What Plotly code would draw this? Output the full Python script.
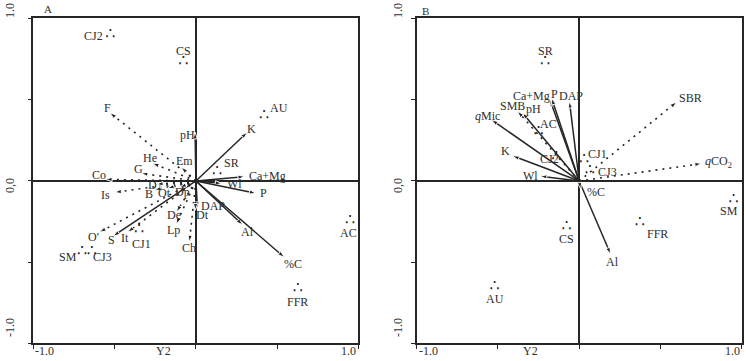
import plotly.graph_objects as go

# ---------------- Panel A data ----------------
envA_names = ["pH", "K", "Ca+Mg", "Wl", "P", "Al", "%C", "S", "DAP"]
envA_x = [-0.005, 0.317, 0.30, 0.16, 0.37, 0.288, 0.545, -0.51, 0.01]
envA_y = [0.30, 0.30, 0.027, -0.015, -0.076, -0.27, -0.47, -0.34, -0.17]

sppA_names = ["F", "He", "Em", "G", "Co", "Is", "D", "B", "Ot", "Dp", "De", "Lp", "Ch", "O'", "It", "Dt"]
sppA_x = [-0.53, -0.268, -0.091, -0.337, -0.557, -0.50, -0.243, -0.255, -0.175, -0.10, -0.12, -0.122, -0.04, -0.594, -0.42, -0.003]
sppA_y = [0.42, 0.11, 0.085, 0.047, 0.01, -0.07, -0.02, -0.055, -0.045, -0.04, -0.19, -0.267, -0.375, -0.315, -0.315, -0.18]

siteA_names = ["CJ2", "CS", "AU", "SR", "AC", "FFR", "SM", "CJ3", "CJ1"]
siteA_x = [-0.526, -0.077, 0.42, 0.13, 0.95, 0.628, -0.70, -0.64, -0.35]
siteA_y = [0.90, 0.735, 0.40, 0.056, -0.247, -0.667, -0.44, -0.44, -0.30]

# ---------------- Panel B data ----------------
envB_names = ["<i>q</i>Mic", "K", "Wl", "pH", "Ca+Mg", "P", "DAP", "Al", "%C"]
envB_x = [-0.54, -0.41, -0.24, -0.35, -0.18, -0.17, -0.06, 0.193, 0.01]
envB_y = [0.377, 0.155, 0.03, 0.42, 0.50, 0.51, 0.49, -0.45, -0.05]

micB_names = ["SMB", "SBR", "<i>q</i>CO<sub>2</sub>"]
micB_x = [-0.38, 0.60, 0.753]
micB_y = [0.43, 0.486, 0.107]

siteB_names = ["SR", "AC", "CJ2", "CJ1", "CJ3", "CS", "AU", "FFR", "SM"]
siteB_x = [-0.21, -0.25, -0.14, 0.03, 0.065, -0.078, -0.52, 0.373, 0.95]
siteB_y = [0.73, 0.30, 0.145, 0.13, 0.06, -0.285, -0.65, -0.26, -0.115]

# ---------------- label offsets (pixels: right, down) ----------------
offA = {"pH": (-8, 3), "K": (4, -3), "Ca+Mg": (23, -1), "Wl": (13, 1), "P": (8, 0),
        "Al": (5, 7), "%C": (9, 7), "S": (-2, 4), "DAP": (15, -3),
        "F": (-2, -5), "He": (-2, -5), "Em": (3, -6), "G": (-3, -4), "Co": (-6, -4),
        "Is": (-9, 3), "D": (-4, 1), "B": (-5, 4), "Ot": (-3, 5), "Dp": (3, 5),
        "De": (-2, 3), "Lp": (-3, 6), "Ch": (0, 6), "O'": (-6, 5), "It": (-3, 6), "Dt": (7, 5)}
offA_site = {"CJ2": (-17, 1), "CS": (0, -11), "AU": (15, -8), "SR": (14, -9), "AC": (-2, 12),
             "FFR": (0, 13), "SM": (-14, 5), "CJ3": (11, 5), "CJ1": (2, 14)}
offB = {"<i>q</i>Mic": (-4, -4), "K": (-7, -5), "Wl": (-10, 0), "pH": (11, -4), "Ca+Mg": (-18, -4),
        "P": (3, -4), "DAP": (2, -5), "Al": (2, 8), "%C": (15, 3),
        "SMB": (-5, -5), "SBR": (14, -4), "<i>q</i>CO<sub>2</sub>": (17, -2)}
offB_site = {"SR": (0, -11), "AC": (10, -8), "CJ2": (-7, 2), "CJ1": (13, -6), "CJ3": (18, 1),
             "CS": (0, 12), "AU": (0, 12), "FFR": (18, 11), "SM": (-5, 11)}

LINE = "#262626"
TXT = "#2e2e2e"
FONT = "Liberation Serif"

fig = go.Figure()


def add_vectors(names, xs, ys, xa, ya, dash, offs, width):
    for n, x, y in zip(names, xs, ys):
        fig.add_trace(go.Scatter(
            x=[0, x], y=[0, y], mode="lines+markers",
            line=dict(color=LINE, width=width, dash=dash),
            marker=dict(symbol="arrow", angleref="previous", size=[0, 7],
                        opacity=[0, 1], color=LINE),
            xaxis=xa, yaxis=ya, hoverinfo="skip", showlegend=False))
        dx, dy = offs.get(n, (0, 0))
        fig.add_annotation(x=x, y=y, xref=xa, yref=ya, text=n,
                           showarrow=False, xshift=dx, yshift=-dy,
                           font=dict(family=FONT, size=12, color=TXT))


def add_sites(names, xs, ys, xa, ya, offs):
    fig.add_trace(go.Scatter(
        x=xs, y=ys, mode="text", text=["∴"] * len(names),
        textfont=dict(family="DejaVu Sans", size=16, color=LINE),
        xaxis=xa, yaxis=ya, hoverinfo="skip", showlegend=False))
    for n, x, y in zip(names, xs, ys):
        dx, dy = offs.get(n, (0, 0))
        fig.add_annotation(x=x, y=y, xref=xa, yref=ya, text=n, showarrow=False,
                           xshift=dx, yshift=-dy,
                           font=dict(family=FONT, size=12, color=TXT))


DOT = "2px,5px"
add_vectors(envA_names, envA_x, envA_y, "x", "y", "solid", offA, 1.5)
add_vectors(sppA_names, sppA_x, sppA_y, "x", "y", DOT, offA, 1.6)
add_sites(siteA_names, siteA_x, siteA_y, "x", "y", offA_site)

add_vectors(envB_names, envB_x, envB_y, "x2", "y2", "solid", offB, 1.5)
add_vectors(micB_names, micB_x, micB_y, "x2", "y2", DOT, offB, 1.6)
add_sites(siteB_names, siteB_x, siteB_y, "x2", "y2", offB_site)

ax_common = dict(range=[-1, 1], showgrid=False, zeroline=True, zerolinecolor=LINE,
                 zerolinewidth=1.5, showline=True, mirror=True, linecolor=LINE,
                 linewidth=1.5, ticks="outside", ticklen=4, tickcolor=LINE, tickwidth=1.2,
                 tickvals=[-1, -0.5, 0, 0.5, 1], showticklabels=False, fixedrange=True)

ydom = [0.0485, 0.9488]
fig.update_layout(
    width=746, height=361, margin=dict(l=0, r=0, t=0, b=0),
    paper_bgcolor="white", plot_bgcolor="white", showlegend=False,
    xaxis=dict(domain=[0.0449, 0.4803], anchor="y", **ax_common),
    yaxis=dict(domain=ydom, anchor="x", **ax_common),
    xaxis2=dict(domain=[0.5586, 0.9942], anchor="y2", **ax_common),
    yaxis2=dict(domain=ydom, anchor="x2", **ax_common),
)

# axis tick labels and titles as text
tf = dict(family=FONT, size=12, color=TXT)
for xa, ya, y2pos, ylx in (("x", "y", -0.2, 0.0134), ("x2", "y2", -0.30, 0.5335)):
    fig.add_annotation(x=-1, y=0.002, xref=xa, yref="paper", text="-1.0", xanchor="left",
                       yanchor="bottom", showarrow=False, font=tf)
    fig.add_annotation(x=1, y=0.002, xref=xa, yref="paper", text="1.0", xanchor="right",
                       yanchor="bottom", showarrow=False, font=tf)
    fig.add_annotation(x=y2pos, y=0.002, xref=xa, yref="paper", text="Y2", xanchor="center",
                       yanchor="bottom", showarrow=False, font=tf)
    for txt, yp in (("1.0", 0.972), ("0,0", 0.4875), ("-1.0", 0.094)):
        fig.add_annotation(x=ylx, y=yp, xref="paper", yref="paper", text=txt, textangle=-90,
                           xanchor="center", yanchor="middle", showarrow=False, font=tf)

fig.add_annotation(x=0.0559, y=0.997, xref="paper", yref="paper", text="A", showarrow=False,
                   yanchor="top", font=dict(family=FONT, size=11, color=TXT))
fig.add_annotation(x=0.571, y=0.993, xref="paper", yref="paper", text="B", showarrow=False,
                   yanchor="top", font=dict(family=FONT, size=11, color=TXT))

fig.write_html("out.html")
